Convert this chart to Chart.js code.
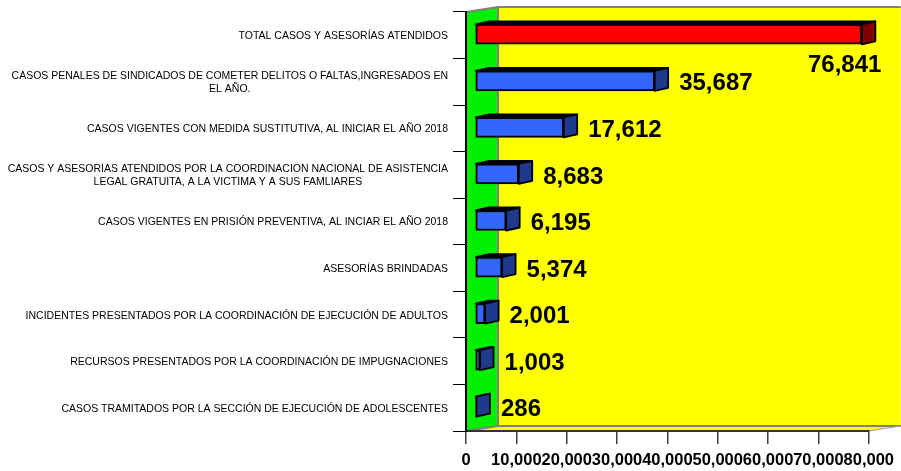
<!DOCTYPE html>
<html>
<head>
<meta charset="utf-8">
<script src="https://cdn.jsdelivr.net/npm/chart.js@4.4.0/dist/chart.umd.min.js"></script>
<style>
  html, body { margin: 0; padding: 0; background: #ffffff; }
  #wrap { width: 901px; height: 471px; position: relative; }
</style>
</head>
<body>
<div id="wrap"><canvas id="c"></canvas></div>
<script>
// ---- data ----
const categories = [
  ["TOTAL CASOS Y ASESORÍAS ATENDIDOS"],
  ["CASOS PENALES DE SINDICADOS DE COMETER DELITOS O FALTAS,INGRESADOS EN", "EL AÑO."],
  ["CASOS VIGENTES CON MEDIDA SUSTITUTIVA, AL INICIAR EL AÑO 2018"],
  ["CASOS Y ASESORIAS ATENDIDOS POR LA COORDINACION NACIONAL DE ASISTENCIA", "LEGAL GRATUITA, A LA VICTIMA Y A SUS FAMLIARES"],
  ["CASOS VIGENTES EN PRISIÓN PREVENTIVA, AL INCIAR EL AÑO 2018"],
  ["ASESORÍAS BRINDADAS"],
  ["INCIDENTES PRESENTADOS POR LA COORDINACIÓN DE EJECUCIÓN DE ADULTOS"],
  ["RECURSOS PRESENTADOS POR LA COORDINACIÓN DE IMPUGNACIONES"],
  ["CASOS TRAMITADOS POR LA SECCIÓN DE EJECUCIÓN DE ADOLESCENTES"]
];
const values = [76841, 35687, 17612, 8683, 6195, 5374, 2001, 1003, 286];
const xTickLabels = ["0", "10,000", "20,000", "30,000", "40,000", "50,000", "60,000", "70,000", "80,000"];

// ---- styling ----
const FONT = "'Liberation Sans', Arial, sans-serif";
const BAR_DX = 9, BAR_DY = -1;      // bar placement inside the 3D box
const DEPTH_X = 13.5, DEPTH_Y = -3; // bar depth
const WALL_DX = 32, WALL_DY = -5;   // box depth
const frontColor = i => i === 0 ? '#FF0000' : '#3366FF';
const sideColor = i => i === 0 ? '#800000' : '#1F3A8C';

const fmt = v => v.toLocaleString('en-US');

const box3d = {
  id: 'box3d',
  beforeDraw(chart) {
    const { ctx, chartArea: a } = chart;
    const L = a.left, R = a.right, T = a.top, B = a.bottom;
    ctx.save();
    ctx.fillStyle = '#FFFF00';
    ctx.fillRect(L + WALL_DX, T + WALL_DY, R - L, B - T);
    ctx.beginPath();
    ctx.moveTo(L, B); ctx.lineTo(L + WALL_DX, B + WALL_DY);
    ctx.lineTo(R + WALL_DX, B + WALL_DY); ctx.lineTo(R, B); ctx.closePath();
    ctx.fillStyle = '#FFFF00'; ctx.fill();
    ctx.beginPath();
    ctx.moveTo(L, T); ctx.lineTo(L + WALL_DX, T + WALL_DY);
    ctx.lineTo(L + WALL_DX, B + WALL_DY); ctx.lineTo(L, B); ctx.closePath();
    ctx.fillStyle = '#00F000'; ctx.fill();
    ctx.strokeStyle = '#808080'; ctx.lineWidth = 2;
    ctx.beginPath();
    ctx.moveTo(L, T); ctx.lineTo(L + WALL_DX, T + WALL_DY); ctx.lineTo(R + WALL_DX, T + WALL_DY);
    ctx.moveTo(L + WALL_DX, T + WALL_DY); ctx.lineTo(L + WALL_DX, B + WALL_DY);
    ctx.lineTo(R + WALL_DX, B + WALL_DY);
    ctx.moveTo(L, B); ctx.lineTo(L + WALL_DX, B + WALL_DY);
    ctx.stroke();
    ctx.lineWidth = 1; ctx.strokeStyle = '#A0A0A0';
    ctx.beginPath(); ctx.moveTo(R, B); ctx.lineTo(R + WALL_DX, B + WALL_DY); ctx.stroke();
    ctx.restore();
  },
  beforeDatasetsDraw(chart) {
    chart.ctx.save();
    chart.ctx.translate(BAR_DX, BAR_DY);
  },
  afterDatasetsDraw(chart) {
    const ctx = chart.ctx;
    const meta = chart.getDatasetMeta(0);
    meta.data.forEach((bar, i) => {
      const x0 = bar.base, x1 = bar.x;
      const top = bar.y - bar.height / 2, bot = bar.y + bar.height / 2;
      ctx.lineWidth = 1.8; ctx.strokeStyle = '#000'; ctx.lineJoin = 'round';
      // top face (seen almost edge-on: dark)
      ctx.beginPath();
      ctx.moveTo(x0, top); ctx.lineTo(x0 + DEPTH_X, top + DEPTH_Y);
      ctx.lineTo(x1 + DEPTH_X, top + DEPTH_Y); ctx.lineTo(x1, top); ctx.closePath();
      ctx.fillStyle = '#000'; ctx.fill(); ctx.stroke();
      // side face
      ctx.beginPath();
      ctx.moveTo(x1, top); ctx.lineTo(x1 + DEPTH_X, top + DEPTH_Y);
      ctx.lineTo(x1 + DEPTH_X, bot + DEPTH_Y); ctx.lineTo(x1, bot); ctx.closePath();
      ctx.fillStyle = sideColor(i); ctx.fill(); ctx.stroke();
    });
    ctx.font = "bold 24px " + FONT;
    ctx.fillStyle = '#000';
    ctx.textBaseline = 'middle';
    meta.data.forEach((bar, i) => {
      const txt = fmt(values[i]);
      const w = ctx.measureText(txt).width;
      const sideEnd = bar.x + DEPTH_X;
      let x = sideEnd + 11;
      let y = bar.y + 3;
      if (x + BAR_DX + w > chart.width - 4) {
        ctx.textAlign = 'right';
        x = sideEnd + 6;
        y = bar.y + bar.height / 2 + 21;
      } else {
        ctx.textAlign = 'left';
      }
      ctx.fillText(txt, x, y);
    });
    ctx.restore();
  },
  afterDraw(chart) {
    const ctx = chart.ctx;
    const ys = chart.scales.y;
    ctx.save();
    ctx.font = "10.5px " + FONT;
    ctx.fillStyle = '#000';
    ctx.textAlign = 'center';
    ctx.textBaseline = 'middle';
    const right = chart.chartArea.left - 18;
    const lh = 13;
    chart.data.labels.forEach((lines, i) => {
      const y = ys.getPixelForTick(i) + 1;
      const maxW = Math.max(...lines.map(s => ctx.measureText(s).width));
      const cx = right - maxW / 2;
      const y0 = y - (lines.length - 1) * lh / 2;
      lines.forEach((s, k) => ctx.fillText(s, cx, y0 + k * lh));
    });
    ctx.restore();
  }
};

new Chart(document.getElementById('c'), {
  type: 'bar',
  data: {
    labels: categories,
    datasets: [{
      data: values,
      backgroundColor: ctx => frontColor(ctx.dataIndex),
      borderColor: '#000',
      borderWidth: 2,
      borderSkipped: false,
      barThickness: 20,
      clip: false
    }]
  },
  options: {
    indexAxis: 'y',
    responsive: true,
    maintainAspectRatio: false,
    animation: false,
    layout: { padding: { top: 12, right: 25, left: 0, bottom: 0 } },
    plugins: { legend: { display: false }, tooltip: { enabled: false } },
    scales: {
      x: {
        min: 0, max: 80000,
        afterFit: s => { s.height = 40; },
        ticks: {
          stepSize: 10000,
          autoSkip: false,
          maxRotation: 0,
          padding: 7,
          color: '#000',
          font: { family: FONT, size: 16.5, weight: 'bold' },
          callback: (v, i) => xTickLabels[i]
        },
        grid: { drawOnChartArea: false, drawTicks: true, tickLength: 13, color: '#404040', lineWidth: 1.5 },
        border: { display: true, color: '#333', width: 2 }
      },
      y: {
        afterFit: s => { s.width = 466; },
        ticks: { display: false },
        grid: { offset: true, drawOnChartArea: false, drawTicks: true, tickLength: 13, color: '#000', lineWidth: 1 },
        border: { display: true, color: '#000', width: 2 }
      }
    }
  },
  plugins: [box3d]
});
</script>
</body>
</html>
